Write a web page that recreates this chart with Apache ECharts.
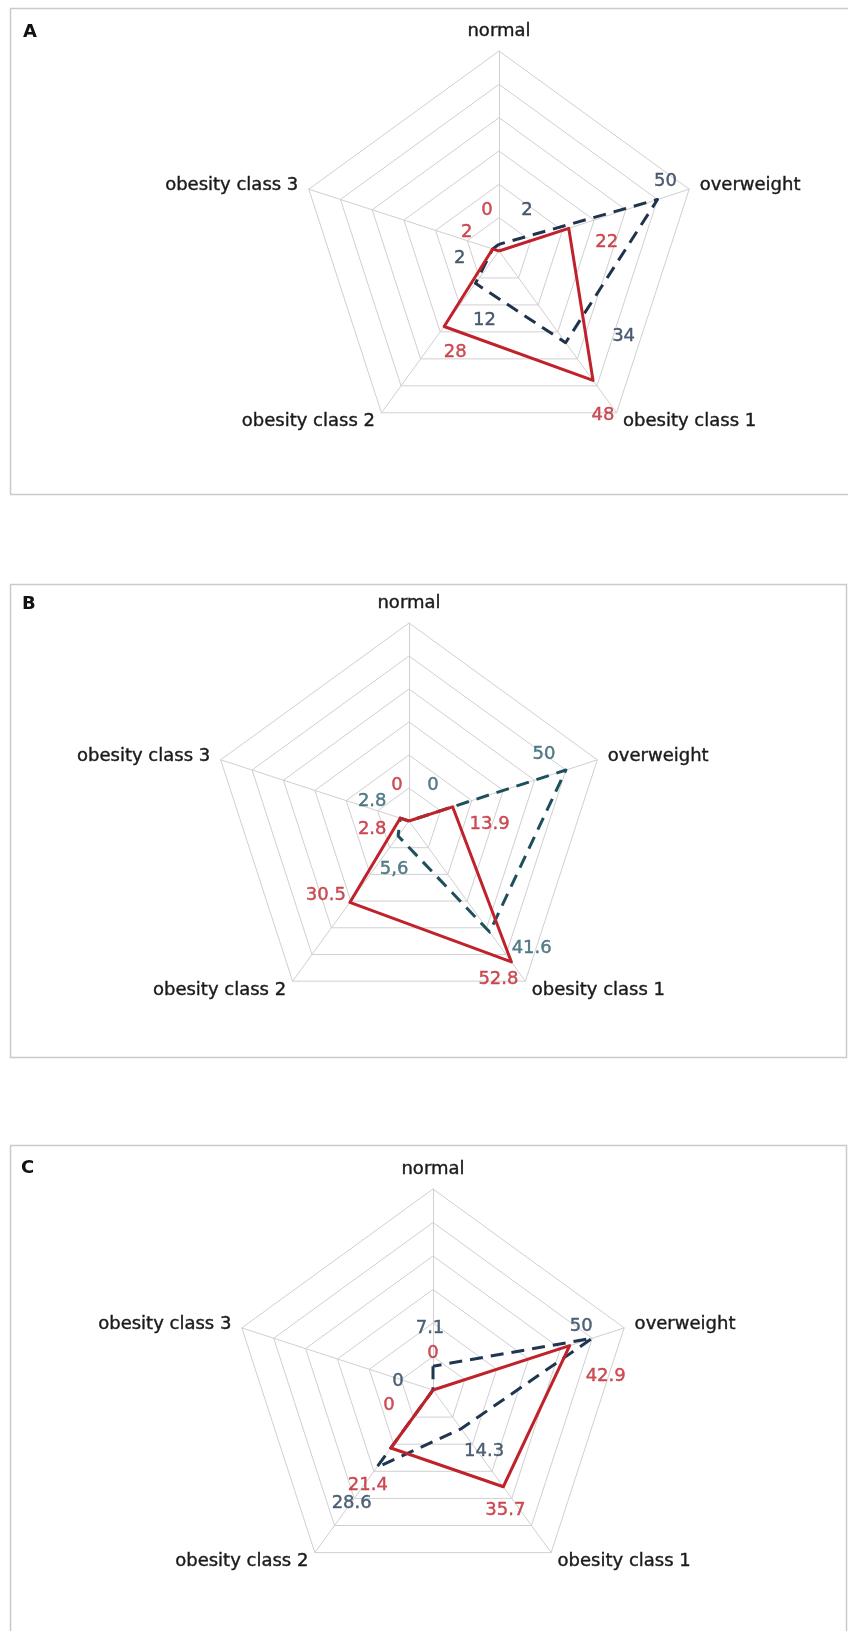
<!DOCTYPE html>
<html><head><meta charset="utf-8">
<script src="https://cdn.jsdelivr.net/npm/echarts@6/dist/echarts.min.js"></script>
<style>html,body{margin:0;padding:0;background:#fff}#c{width:848px;height:1631px}</style>
</head><body><div id="c"></div>
<script>
// ---------- data ----------
const categories = ['normal', 'overweight', 'obesity class 1', 'obesity class 2', 'obesity class 3'];
const panelLetters = ['A', 'B', 'C'];
const axisMax = 60;
const ringCount = 6;

const redA  = [0, 22, 48, 28, 2];
const dashA = [2, 50, 34, 12, 2];

const redB  = [0, 13.9, 52.8, 30.5, 2.8];
const dashB = [0, 50, 41.6, 5.6, 2.8];
const dashBText = ['0', '50', '41.6', '5,6', '2.8'];

const redC  = [0, 42.9, 35.7, 21.4, 0];
const dashC = [7.1, 50, 14.3, 28.6, 0];

// ---------- layout / style ----------
const FONT = "'DejaVu Sans', sans-serif";
const FS = 18;
const RED = '#c0222c';
const layout = [
  {cx: 499, cy: 251, r: 200, frame: [10.5, 8.5, 900, 486], letter: [23, 23], dash: '#1f334d', dashLabel: '#243650'},
  {cx: 409, cy: 821, r: 198, frame: [10.5, 584.5, 836, 473], letter: [22, 595], dash: '#1e4f5c', dashLabel: '#2b5e6b'},
  {cx: 433, cy: 1390, r: 201, frame: [10.5, 1145.5, 836, 600], letter: [21, 1159], dash: '#1f3550', dashLabel: '#263c58'}
];
// label offsets (px) per category, for red and dashed series of each panel
const labelOffsets = [
  {red: [[-12,-41],[38,14],[10,35],[11,26],[-26,-17]], dash: [[28,-34],[8,-18],[58,-6],[9,37],[-33,9]]},
  {red: [[-12,-36],[37,18],[-13,17],[-24,-7],[-28,11]], dash: [[24,-36],[-22,-16],[42,16],[-4,33],[-28,-17]]},
  {red: [[0,-37],[36,31],[2,24],[-23,37],[-44,15]], dash: [[-3,-38],[-11,-12],[23,23],[-25,36],[-35,-9]]}
];

const panels = [
  {red: redA, dash: dashA, redText: redA.map(String), dashText: dashA.map(String)},
  {red: redB, dash: dashB, redText: redB.map(String), dashText: dashBText},
  {red: redC, dash: dashC, redText: redC.map(String), dashText: dashC.map(String)}
];

// ECharts radar runs counter-clockwise; reorder so the chart reads clockwise
const order = [0, 4, 3, 2, 1];
const reorder = arr => order.map(i => arr[i]);

const radar = [], polar = [], angleAxis = [], radiusAxis = [], series = [], graphic = [];

layout.forEach((L, k) => {
  const P = panels[k];
  radar.push({
    center: [L.cx, L.cy], radius: L.r, startAngle: 90, splitNumber: ringCount, shape: 'polygon',
    indicator: order.map(i => ({name: categories[i], min: 0, max: axisMax})),
    nameGap: 11,
    axisName: {color: '#1a1a1a', fontSize: FS, fontFamily: FONT, textBorderColor: '#1a1a1a', textBorderWidth: 0.4},
    splitLine: {lineStyle: {color: '#d0d0d0', width: 1}},
    splitArea: {show: false},
    axisLine: {lineStyle: {color: '#d0d0d0', width: 1}},
    axisTick: {show: false},
    axisLabel: {show: false}
  });
  polar.push({center: [L.cx, L.cy], radius: L.r});
  angleAxis.push({polarIndex: k, type: 'category', data: categories, startAngle: 90, clockwise: true, boundaryGap: false, show: false});
  radiusAxis.push({polarIndex: k, type: 'value', min: 0, max: axisMax, show: false});

  series.push({
    type: 'radar', radarIndex: k, symbol: 'none', silent: true,
    data: [
      {value: reorder(P.dash), lineStyle: {color: L.dash, width: 3, type: [13, 8]}, itemStyle: {color: L.dash}},
      {value: reorder(P.red), lineStyle: {color: RED, width: 3}, itemStyle: {color: RED}}
    ]
  });

  const mk = (vals, texts, offs, color) => ({
    type: 'scatter', coordinateSystem: 'polar', polarIndex: k, symbolSize: 1, silent: true, z: 5,
    itemStyle: {color: 'rgba(0,0,0,0)'},
    data: vals.map((v, i) => ({value: [v, i], label: {offset: offs[i]}})),
    label: {show: true, position: 'inside', color: color, fontSize: FS, fontFamily: FONT,
            textBorderColor: color, textBorderWidth: 0.4,
            formatter: p => texts[p.dataIndex]}
  });
  series.push(mk(P.dash, P.dashText, labelOffsets[k].dash, L.dashLabel));
  series.push(mk(P.red, P.redText, labelOffsets[k].red, RED));

  const f = L.frame;
  graphic.push({type: 'rect', silent: true, z: -10,
    shape: {x: f[0], y: f[1], width: f[2], height: f[3]},
    style: {fill: 'none', stroke: '#cacaca', lineWidth: 1.5}});
  graphic.push({type: 'text', silent: true, x: L.letter[0], y: L.letter[1],
    style: {text: panelLetters[k], fontSize: 18, fontWeight: 'bold', fontFamily: FONT, fill: '#111'}});
});

const chart = echarts.init(document.getElementById('c'), null, {renderer: 'canvas'});
chart.setOption({
  animation: false,
  backgroundColor: '#ffffff',
  radar, polar, angleAxis, radiusAxis, series, graphic
});
</script>
</body></html>
